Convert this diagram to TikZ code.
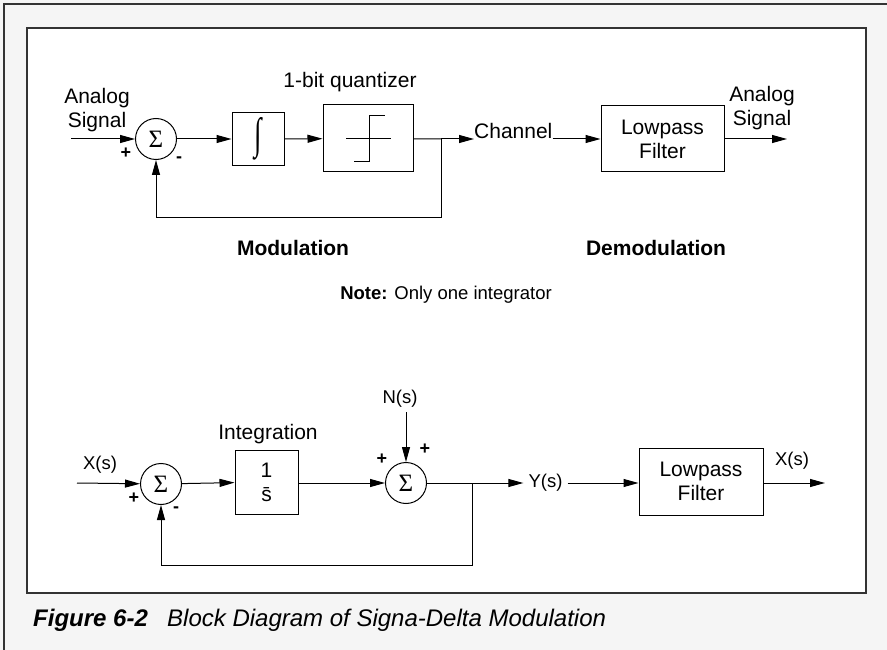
\documentclass[tikz,border=0pt]{standalone}
\usepackage{fontspec}
\setmainfont{Liberation Sans}
\newfontfamily\symfont{Liberation Serif}
\usetikzlibrary{arrows.meta}
\definecolor{pagegray}{HTML}{F5F5F5}
\definecolor{framegray}{HTML}{333333}
\tikzset{
  block/.style={draw, line width=1pt, inner sep=0pt, align=center, font=\fontsize{21}{24}\selectfont},
  sumnode/.style={draw, circle, line width=1pt, minimum size=41pt, inner sep=0pt, font=\symfont\fontsize{25}{25}\selectfont},
  lbl/.style={font=\fontsize{21}{24}\selectfont, align=center, inner sep=0pt},
  sig/.style={font=\fontsize{18.5}{22}\selectfont, inner sep=0pt},
  sgn/.style={font=\fontsize{18}{18}\selectfont\bfseries, inner sep=0pt},
  wire/.style={line width=1pt},
  flow/.style={wire, -{Triangle[length=15pt,width=8pt]}},
}
\begin{document}
\begin{tikzpicture}[x=1pt,y=-1pt]
\useasboundingbox (0,0) rectangle (887,650);
% page and frames
\fill[pagegray] (0,0) rectangle (887,650);
\draw[framegray, line width=1.3pt] (4,650) -- (4,4) -- (887,4);
\draw[framegray, line width=1.6pt, fill=white] (27,28) rectangle (866,593);

% modulation / demodulation (top row)
\coordinate (in1) at (71,139);
\node[lbl] (ain) at (97,110) {Analog\\Signal};
\node[sumnode] (sum1) at (156,139) {Σ};
\node[sgn] (p1) at (126,153) {+};
\node[sgn] (m1) at (179,160) {-};
\node[block, minimum width=52pt, minimum height=53pt] (integ) at (258,139)
  {\scalebox{0.9}[1.45]{\symfont\fontsize{30}{30}\selectfont ∫}};
\node[block, minimum width=90pt, minimum height=67pt] (quant) at (368,138.5) {};
\node[lbl] (qlbl) at (350,82) {1-bit quantizer};
\draw[wire] (346,139) -- (391,139);
\draw[wire] (354,162) -- (369,162) -- (369,116) -- (385,116);
\coordinate (br1) at (441,139);
\node[lbl, anchor=south west] (chan) at (474,139) {Channel};
\node[block, minimum width=123pt, minimum height=66pt] (lpf1) at (662.5,139) {Lowpass\\Filter};
\coordinate (out1) at (787,139);
\node[lbl] (aout) at (762,108) {Analog\\Signal};

\draw[flow] (in1) -- (sum1);
\draw[flow] (sum1) -- (integ);
\draw[flow] (integ) -- (quant);
\draw[wire] (quant) -- (br1);
\draw[flow] (br1) -- (chan.south west);
\draw[flow] (chan.south east) -- (chan.south east -| lpf1.west);
\draw[flow] (lpf1) -- (out1);
\draw[flow] (br1) -- (br1 |- 0,218) -| (sum1.south);

\node[lbl, font=\fontsize{21}{24}\selectfont\bfseries] (mod) at (293,248) {Modulation};
\node[lbl, font=\fontsize{21}{24}\selectfont\bfseries] (demod) at (656,248) {Demodulation};
\node[sig] (note) at (446,295) {\textbf{Note:} Only one integrator};

% linear model (bottom row)
\coordinate (in2) at (77,483);
\node[sig] (xin) at (100,465) {X(s)};
\node[sumnode] (sum2) at (161,484) {Σ};
\node[sgn] (p2) at (134,498) {+};
\node[sgn] (m2) at (176,510) {-};
\node[block, minimum width=63pt, minimum height=64pt] (intg) at (266.5,482) {1\\\={s}};
\node[lbl] (ilbl) at (268,434) {Integration};
\node[sumnode] (sum3) at (406,483) {Σ};
\node[sig] (nin) at (400,399) {N(s)};
\coordinate (ntop) at (406,412);
\node[sgn] (p3) at (382,459) {+};
\node[sgn] (p4) at (425,449) {+};
\coordinate (br2) at (472,483);
\node[sig, inner sep=5pt] (ys) at (545.5,483) {Y(s)};
\node[block, minimum width=124pt, minimum height=67pt] (lpf2) at (701,481.5) {Lowpass\\Filter};
\coordinate (out2) at (825,483);
\node[sig] (xout) at (792,461) {X(s)};

\draw[flow] (in2) -- (sum2);
\draw[flow] (sum2) -- (intg);
\draw[flow] (intg.east |- sum3) -- (sum3);
\draw[flow] (ntop) -- (sum3);
\draw[wire] (sum3) -- (br2);
\draw[flow] (br2) -- (ys);
\draw[flow] (ys) -- (ys -| lpf2.west);
\draw[flow] (lpf2.east |- out2) -- (out2);
\draw[flow] (br2) -- (br2 |- 0,565) -| (sum2.south);

% caption
\node[anchor=west, inner sep=0pt, font=\fontsize{24}{28}\selectfont\bfseries\itshape] (fig) at (33,620) {Figure 6-2};
\node[anchor=west, inner sep=0pt, font=\fontsize{24}{28}\selectfont\itshape] (cap) at (167,620) {Block Diagram of Signa-Delta Modulation};
\end{tikzpicture}
\end{document}
